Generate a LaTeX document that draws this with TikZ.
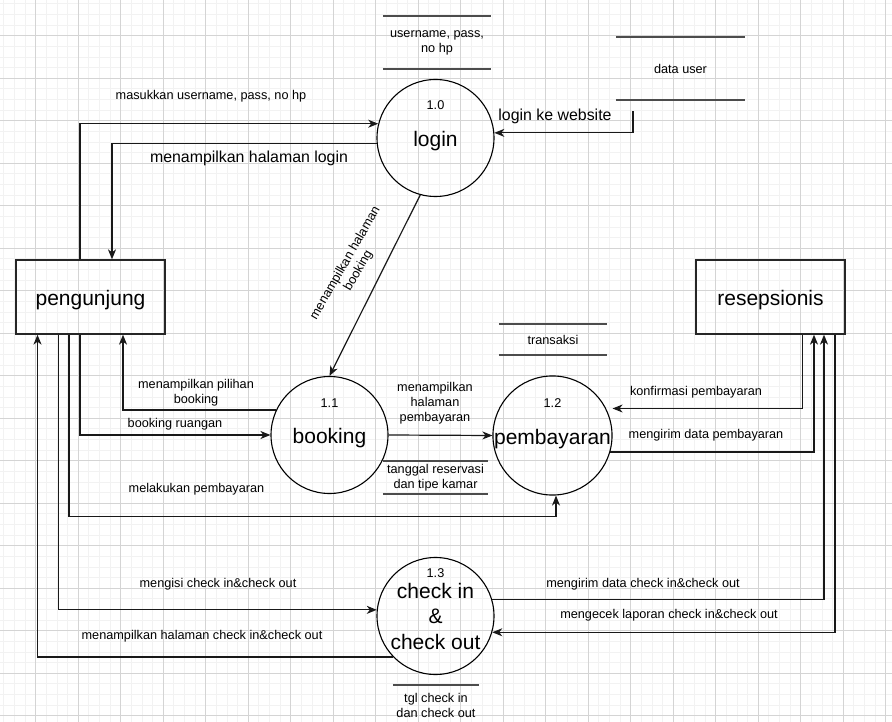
\documentclass[tikz,border=0pt]{standalone}
\usepackage{fontspec}
\setmainfont{Liberation Sans}
\usetikzlibrary{arrows.meta, calc, positioning}
\tikzstyle{process} = [circle, draw=black, line width=1.1pt, minimum size=117pt, inner sep=0pt, text centered, font=\fontsize{21}{25.5}\selectfont]
\tikzstyle{entity} = [rectangle, draw=black!85, line width=1.3pt, minimum width=149pt, minimum height=74pt, font=\fontsize{21}{25.5}\selectfont]
\tikzstyle{lowtext} = [text height=21pt, text depth=4pt]
\tikzstyle{store} = [rectangle, inner sep=0pt, align=center, font=\fontsize{12.7}{15}\selectfont]
\tikzstyle{storeline} = [draw=black!70, line width=1.7pt]
\tikzstyle{num} = [font=\fontsize{12.7}{15}\selectfont]
\tikzstyle{flow} = [align=center, font=\fontsize{12.7}{15}\selectfont]
\tikzstyle{bigflow} = [font=\fontsize{15.9}{19}\selectfont]
\tikzstyle{arrow} = [line width=1.2pt, draw=black!90, -{Stealth[length=10pt, width=8pt, inset=3pt]}]
\tikzstyle{minorgrid} = [draw=black!5, line width=0.9pt]
\tikzstyle{majorgrid} = [draw=black!17, line width=1pt]
\begin{document}
\begin{tikzpicture}[x=1pt, y=-1pt]
\useasboundingbox (0,0) rectangle (892,722);
\fill[white] (0,0) rectangle (892,722);
% grid
\foreach \i in {1,...,84} {
  \draw[minorgrid] ({-6.7+10.625*\i},0) -- ({-6.7+10.625*\i},722);
}
\foreach \i in {1,...,68} {
  \draw[minorgrid] (0,{-6.7+10.625*\i}) -- (892,{-6.7+10.625*\i});
}
\foreach \i in {1,...,21} {
  \draw[majorgrid] ({-6.7+42.5*\i},0) -- ({-6.7+42.5*\i},722);
}
\foreach \i in {1,...,17} {
  \draw[majorgrid] (0,{-6.7+42.5*\i}) -- (892,{-6.7+42.5*\i});
}

% entities
\node[entity, lowtext] (peng) at (90.5,297) {pengunjung};
\node[entity, lowtext] (resep) at (770.5,297) {resepsionis};

% processes
\node[process, lowtext] (login) at (435.5,138) {login};
\node[process, lowtext] (booking) at (329.5,435) {booking};
\node[process, lowtext] (pemb) at (552.5,435.5) {pembayaran};
\node[process, align=center] (chk) at (435.5,616) {check in\\\&\\check out};
\node[num] (loginnum) at ([yshift=33pt]login.center) {1.0};
\node[num] (bookingnum) at ([yshift=32pt]booking.center) {1.1};
\node[num] (pembnum) at ([yshift=32pt]pemb.center) {1.2};
\node[num] (chknum) at ([yshift=43pt]chk.center) {1.3};

% data stores
\node[store, minimum width=108pt, minimum height=53pt] (dsuser) at (437,42.5) {username, pass,\\no hp};
\node[store, minimum width=129pt, minimum height=63pt] (dsdata) at (680.5,68.5) {data user};
\node[store, minimum width=108pt, minimum height=31pt] (dstrans) at (553,339.5) {transaksi};
\node[store, minimum width=105pt, minimum height=33pt] (dsres) at (435.5,477.5) {tanggal reservasi\\dan tipe kamar};
\node[store, minimum width=86pt, minimum height=41pt] (dscheck) at (436,705.5) {tgl check in\\dan check out};
\foreach \s in {dsuser, dsdata, dstrans, dsres}
  \draw[storeline] (\s.north west) -- (\s.north east) (\s.south west) -- (\s.south east);
\draw[storeline] (dscheck.north west) -- (dscheck.north east);

% flow labels
\node[flow] (lblmasuk) at (211,96) {masukkan username, pass, no hp};
\node[bigflow] (lblhalogin) at (249,158.5) {menampilkan halaman login};
\node[bigflow] (lblweb) at (555,116.5) {login ke website};
\node[flow, rotate=60] (lblhalbook) at (352,267) {menampilkan halaman\\booking};
\node[flow] (lblpilihan) at (196,393) {menampilkan pilihan\\booking};
\node[flow] (lblruang) at (175,424.5) {booking ruangan};
\node[flow] (lblbayar) at (196.5,489) {melakukan pembayaran};
\node[flow] (lblhalbayar) at (435,403.5) {menampilkan\\halaman\\pembayaran};
\node[flow] (lblkonf) at (696,392.5) {konfirmasi pembayaran};
\node[flow] (lblkirimbayar) at (706,435.5) {mengirim data pembayaran};
\node[flow] (lblkirimchk) at (643,584) {mengirim data check in\&check out};
\node[flow] (lblcekchk) at (669,615.5) {mengecek laporan check in\&check out};
\node[flow] (lblisichk) at (218,584) {mengisi check in\&check out};
\node[flow] (lblhalchk) at (202,636.5) {menampilkan halaman check in\&check out};

% flows
\draw[arrow] ([xshift=-10.5pt]peng.north) |- (login.166);
\draw[arrow] (login.185) -| ([xshift=21.5pt]peng.north);
\draw[arrow] ([xshift=-47.5pt,yshift=-11pt]dsdata.south) |- (login.5);
\draw[arrow] (login.255) -- (booking.north);
\draw[arrow] (booking.155) -| ([xshift=32.5pt]peng.south);
\draw[arrow] ([xshift=-10.5pt]peng.south) |- (booking.west);
\draw[arrow] ([xshift=-21.5pt]peng.south) |- ([xshift=3.5pt,yshift=-21pt]pemb.south) -- ([xshift=3.5pt]pemb.south);
\draw[arrow] (booking.east) -- (pemb.west);
\draw[arrow] ([xshift=32pt]resep.south) |- ([yshift=27pt]pemb.east);
\draw[arrow] (pemb.-16) -| ([xshift=43.5pt]resep.south);
\draw[arrow] (chk.16) -| ([xshift=53.5pt]resep.south);
\draw[arrow] ([xshift=64.5pt]resep.south) |- (chk.-16);
\draw[arrow] ([xshift=-32pt]peng.south) |- (chk.174);
\draw[arrow] (chk.224) -| ([xshift=-53pt]peng.south);
\end{tikzpicture}
\end{document}
